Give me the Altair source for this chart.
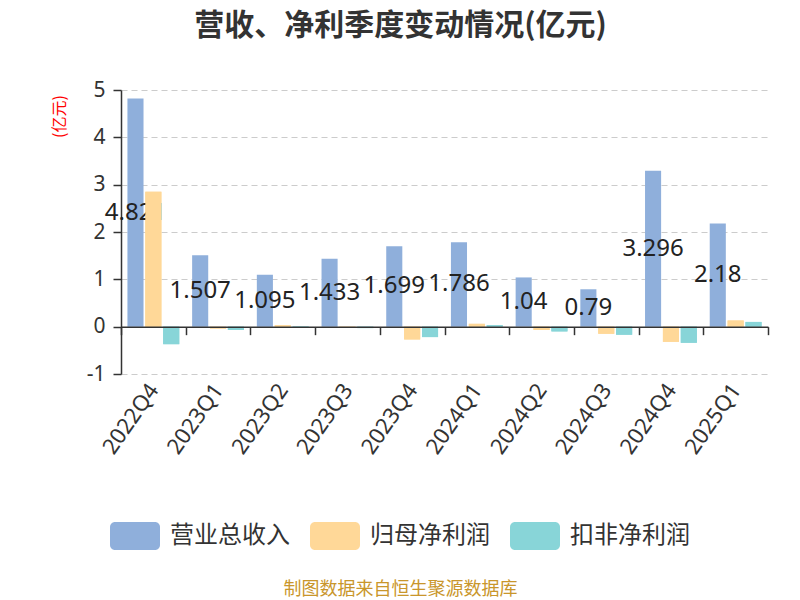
import altair as alt
import pandas as pd

quarters = ["2022Q4", "2023Q1", "2023Q2", "2023Q3", "2023Q4", "2024Q1", "2024Q2", "2024Q3", "2024Q4", "2025Q1"]
series_names = ["营业总收入", "归母净利润", "扣非净利润"]
revenue = [4.821, 1.507, 1.095, 1.433, 1.699, 1.786, 1.04, 0.79, 3.296, 2.18]
net_profit = [2.85, -0.04, 0.03, -0.01, -0.27, 0.06, -0.07, -0.15, -0.32, 0.13]
net_profit_ded = [-0.37, -0.07, 0.01, -0.03, -0.22, 0.03, -0.10, -0.17, -0.34, 0.10]
colors = ["#8FAFDB", "#FFD898", "#88D5D8"]

rows = []
for i, q in enumerate(quarters):
    for s, vals in zip(series_names, [revenue, net_profit, net_profit_ded]):
        rows.append({"q": q, "series": s, "value": vals[i]})
df = pd.DataFrame(rows)

FONT = "Noto Sans CJK SC"
NUMFONT = "Noto Sans"
W, H = 647, 284
unit = H / 6.0

rounded = ("M-0.8,-0.56 H0.8 A0.2,0.2 0 0 1 1,-0.36 V0.36 A0.2,0.2 0 0 1 0.8,0.56 "
           "H-0.8 A0.2,0.2 0 0 1 -1,0.36 V-0.36 A0.2,0.2 0 0 1 -0.8,-0.56 Z")

x_enc = alt.X(
    "q:N", sort=quarters,
    scale=alt.Scale(paddingInner=0, paddingOuter=0),
    axis=alt.Axis(
        title="制图数据来自恒生聚源数据库", titleColor="#C9962B", titleFontSize=18,
        titleFontWeight="normal", titleFont=FONT, titleX=279, titleY=263,
        titleAlign="center", titleBaseline="middle",
        offset=-unit, tickBand="extent", tickSize=8, tickColor="#333",
        domainColor="#333", domainWidth=1.5, tickWidth=1.5,
        labelAngle=-55, labelAlign="right", labelBaseline="middle",
        labelFontSize=22, labelColor="#333", labelFont=NUMFONT, labelPadding=51,
        grid=False, zindex=2,
    ),
)
xoff_scale = alt.Scale(paddingInner=0.1, paddingOuter=0.36)
xoff_enc = alt.XOffset("series:N", sort=series_names, scale=xoff_scale)
y_enc = alt.Y(
    "value:Q",
    scale=alt.Scale(domain=[-1, 5], nice=False),
    axis=alt.Axis(
        values=[-1, 0, 1, 2, 3, 4, 5], title="(亿元)", titleColor="red", titleFontSize=16,
        titleFontWeight="normal", titleFont=FONT, titleAngle=270, titleX=-62, titleY=26,
        titleAlign="center", titleBaseline="middle",
        labelExpr="replace(datum.label, '\u2212', '-')",
        labelFontSize=21, labelColor="#333", labelFont=NUMFONT, labelPadding=8,
        tickSize=8, tickColor="#333", domainColor="#333", domainWidth=1.5, tickWidth=1.5,
        grid=True, gridDash=[6, 4], gridColor="#cccccc", gridWidth=1.2,
    ),
)
color_enc = alt.Color(
    "series:N", sort=series_names,
    scale=alt.Scale(domain=series_names, range=colors),
    legend=alt.Legend(
        title=None, orient="none", direction="horizontal", legendX=-11, legendY=421,
        symbolType=rounded, symbolSize=2500, symbolStrokeWidth=0, symbolOpacity=1,
        labelFontSize=24, labelColor="#333", labelFont=FONT, labelOffset=10,
        columnPadding=20,
    ),
)

base = alt.Chart(df)
bars = base.mark_bar().encode(x=x_enc, xOffset=xoff_enc, y=y_enc, color=color_enc)
labels = base.transform_filter(alt.datum.series == "营业总收入").transform_calculate(
    mid="datum.value / 2"
).mark_text(fontSize=24, font=NUMFONT, color="#222", align="center", baseline="middle").encode(
    x=alt.X("q:N", sort=quarters), xOffset=alt.XOffset("series:N", sort=series_names),
    y=alt.Y("mid:Q"), text=alt.Text("value:N"),
)
bars_top = base.transform_filter(alt.datum.series != "营业总收入").mark_bar().encode(
    x=alt.X("q:N", sort=quarters), xOffset=alt.XOffset("series:N", sort=series_names),
    y=alt.Y("value:Q"), color=alt.Color("series:N", sort=series_names),
)

chart = alt.layer(bars, labels, bars_top).properties(
    width=W, height=H,
    autosize=alt.AutoSizeParams(type="none"),
    padding={"left": 113, "top": 82, "right": 24, "bottom": 226},
    title=alt.Title(
        "营收、净利季度变动情况(亿元)", fontSize=30, fontWeight="bold", color="#333",
        font=FONT, anchor="middle", dx=-44, offset=38,
    ),
).configure_view(stroke=None)

chart.save("out.html", embed_options={"renderer": "svg", "actions": False})
